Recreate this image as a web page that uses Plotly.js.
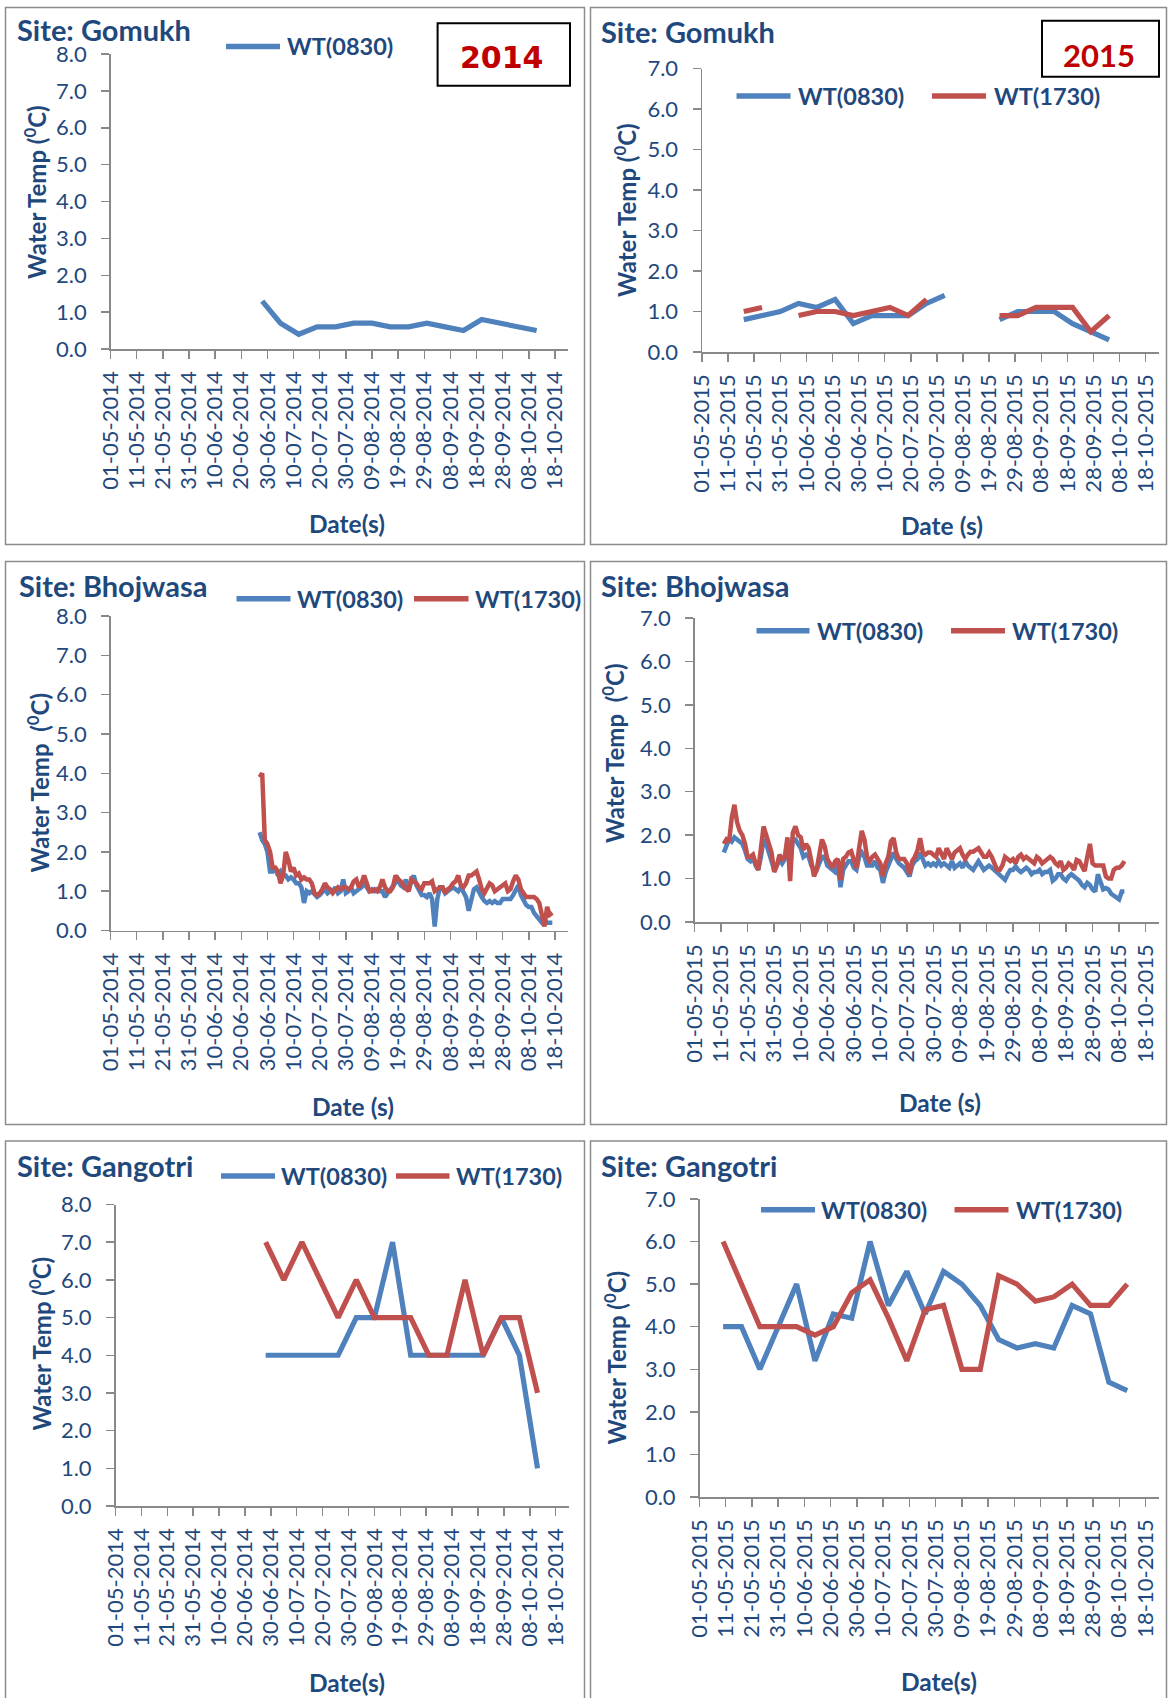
<!DOCTYPE html>
<html>
<head>
<meta charset="utf-8">
<script src="https://cdn.plot.ly/plotly-3.0.1.min.js"></script>
<style>
html,body{margin:0;padding:0;background:#fff;}
#chart{width:1168px;height:1698px;}
</style>
</head>
<body>
<div id="chart"></div>
<script>
// ---------------- DATA ----------------
const ticks2014 = ['01-05-2014','11-05-2014','21-05-2014','31-05-2014','10-06-2014','20-06-2014','30-06-2014','10-07-2014','20-07-2014','30-07-2014','09-08-2014','19-08-2014','29-08-2014','08-09-2014','18-09-2014','28-09-2014','08-10-2014','18-10-2014'];
const ticks2015 = ['01-05-2015','11-05-2015','21-05-2015','31-05-2015','10-06-2015','20-06-2015','30-06-2015','10-07-2015','20-07-2015','30-07-2015','09-08-2015','19-08-2015','29-08-2015','08-09-2015','18-09-2015','28-09-2015','08-10-2015','18-10-2015'];

// Gomukh 2014 (weekly)
const gomukh2014Dates = ['2014-06-28','2014-07-05','2014-07-12','2014-07-19','2014-07-26','2014-08-02','2014-08-09','2014-08-16','2014-08-23','2014-08-30','2014-09-06','2014-09-13','2014-09-20','2014-09-27','2014-10-04','2014-10-11'];
const gomukh2014WT0830 = [1.3,0.7,0.4,0.6,0.6,0.7,0.7,0.6,0.6,0.7,0.6,0.5,0.8,0.7,0.6,0.5];

// Gomukh 2015 (weekly, gaps = no reading)
const gomukh2015Dates = ['2015-05-17','2015-05-24','2015-05-31','2015-06-07','2015-06-14','2015-06-21','2015-06-28','2015-07-05','2015-07-12','2015-07-19','2015-07-26','2015-08-02','2015-08-09','2015-08-16','2015-08-23','2015-08-30','2015-09-06','2015-09-13','2015-09-20','2015-09-27','2015-10-04'];
const gomukh2015WT0830 = [0.8,0.9,1.0,1.2,1.1,1.3,0.7,0.9,0.9,0.9,1.2,1.4,null,null,0.8,1.0,1.0,1.0,0.7,0.5,0.3];
const gomukh2015WT1730 = [1.0,1.1,null,0.9,1.0,1.0,0.9,1.0,1.1,0.9,1.3,null,null,null,0.9,0.9,1.1,1.1,1.1,0.5,0.9];

// Bhojwasa 2014 (daily from 27-06-2014)
const bhoj2014Start = '2014-06-27';
const bhoj2014WT0830 = [
 2.5,2.3,2.2,2.0,1.5,1.5,1.6,1.4,1.5,1.4,
 1.4,1.3,1.35,1.3,1.2,1.2,1.1,0.7,1.0,0.95,
 1.0,0.9,0.85,0.9,1.0,1.05,0.95,1.0,1.0,1.1,
 0.95,1.0,1.3,0.95,1.0,1.1,0.95,1.0,1.05,1.1,
 1.2,1.1,1.0,1.05,1.0,1.05,1.0,1.0,0.85,0.95,
 1.05,1.1,1.2,1.3,
 1.15,1.1,1.3,1.0,1.25,1.4,1.15,1.05,0.9,0.9,
 0.85,0.95,0.8,0.1,0.8,1.1,1.1,0.95,1.0,1.05,
 1.1,1.05,1.0,1.1,0.95,0.85,0.5,0.8,1.05,1.1,
 0.95,0.85,0.75,0.7,0.75,0.7,0.75,0.7,0.7,0.8,
 0.8,0.8,0.8,0.9,1.0,1.15,0.9,0.75,0.65,0.6,
 0.6,0.45,0.35,0.3,0.2,0.25,0.2,0.2,0.2];
const bhoj2014WT1730 = [
 3.9,4.0,2.3,2.2,2.0,1.6,1.6,1.5,1.2,1.4,
 2.0,1.8,1.5,1.6,1.4,1.45,1.3,1.35,1.3,1.3,
 1.2,0.95,0.9,0.95,1.05,1.2,1.1,1.05,0.95,1.05,
 1.1,1.05,1.1,1.1,1.05,1.1,1.25,1.3,1.1,1.2,
 1.4,1.2,1.0,1.0,1.05,1.0,1.1,1.3,1.1,1.0,
 1.0,1.1,1.4,1.3,
 1.25,1.15,1.05,1.0,1.3,1.25,1.2,1.1,1.05,1.2,
 1.2,1.2,1.25,1.0,1.05,1.1,1.1,0.95,1.05,1.1,
 1.2,1.25,1.4,1.15,1.1,1.2,1.4,1.4,1.45,1.5,
 1.3,1.05,0.95,1.1,1.2,1.15,1.0,1.05,1.1,1.15,
 1.2,1.0,1.05,1.25,1.4,1.3,1.05,0.95,0.85,0.85,
 0.85,0.85,0.8,0.7,0.4,0.1,0.6,0.4,0.45];

// Bhojwasa 2015 (daily from 12-05-2015)
const bhoj2015Start = '2015-05-12';
const bhoj2015WT0830 = [
 1.6,1.75,1.9,1.85,1.95,1.9,1.85,1.8,1.65,1.45,
 1.4,1.5,1.3,1.2,1.5,1.9,1.8,1.6,1.4,1.2,
 1.3,1.45,1.35,1.45,1.7,1.3,1.9,1.9,1.8,1.7,
 1.5,1.55,1.5,1.3,1.2,1.2,1.35,1.5,1.5,1.3,
 1.25,1.2,1.15,1.3,0.8,1.2,1.3,1.4,
 1.4,1.25,1.2,1.5,1.6,1.5,1.3,1.3,1.3,1.4,
 1.25,1.2,0.9,1.15,1.3,1.5,1.6,1.45,1.35,1.3,
 1.25,1.15,1.05,1.3,1.4,1.45,1.6,1.45,1.3,1.35,
 1.3,1.35,1.3,1.4,1.3,1.35,1.3,1.25,1.4,1.25,
 1.3,1.35,1.25,1.4,1.3,1.25,1.2,1.3,1.4,1.3,
 1.2,1.25,1.3,1.25,1.2,
 1.15,1.1,1.05,0.97,1.1,1.2,1.2,1.28,1.2,1.15,
 1.2,1.25,1.2,1.1,1.15,1.15,1.2,1.1,1.15,1.15,
 1.2,0.95,1.0,1.1,1.1,1.0,0.95,1.05,1.1,1.05,
 1.0,0.95,0.85,0.8,0.9,0.85,0.75,0.7,1.1,0.9,
 0.75,0.78,0.75,0.65,0.6,0.55,0.52,0.7,0.7];
const bhoj2015WT1730 = [
 1.8,1.9,1.85,2.4,2.7,2.3,2.1,2.0,1.8,1.5,
 1.5,1.55,1.35,1.2,1.7,2.2,2.0,1.8,1.6,1.15,
 1.3,1.55,1.45,1.5,1.95,0.94,2.05,2.2,2.0,1.95,
 1.66,1.8,1.7,1.4,1.05,1.2,1.5,1.9,1.75,1.45,
 1.35,1.25,1.4,1.45,0.97,1.45,1.5,1.6,
 1.63,1.4,1.24,1.7,2.1,1.9,1.5,1.4,1.5,1.55,
 1.45,1.35,1.05,1.35,1.5,1.86,1.93,1.6,1.45,1.45,
 1.45,1.35,1.1,1.4,1.5,1.65,1.93,1.6,1.55,1.6,
 1.6,1.55,1.5,1.7,1.55,1.45,1.7,1.55,1.45,1.6,
 1.65,1.7,1.55,1.45,1.55,1.62,1.62,1.65,1.7,1.6,
 1.5,1.5,1.6,1.5,1.32,
 1.2,1.2,1.3,1.5,1.45,1.4,1.45,1.35,1.5,1.55,
 1.45,1.5,1.45,1.4,1.35,1.5,1.45,1.35,1.4,1.45,
 1.5,1.45,1.35,1.3,1.4,1.2,1.25,1.35,1.3,1.2,
 1.43,1.4,1.3,1.17,1.5,1.8,1.35,1.3,1.3,1.3,
 1.3,1.05,1.0,1.0,1.2,1.25,1.25,1.3,1.4];

// Gangotri 2014 (weekly)
const gangotri2014Dates = gomukh2014Dates;
const gangotri2014WT0830 = [4,4,4,4,4,5,5,7,4,4,4,4,4,5,4,1];
const gangotri2014WT1730 = [7,6,7,6,5,6,5,5,5,4,4,6,4,5,5,3];

// Gangotri 2015 (weekly)
const gangotri2015Dates = ['2015-05-10','2015-05-17','2015-05-24','2015-05-31','2015-06-07','2015-06-14','2015-06-21','2015-06-28','2015-07-05','2015-07-12','2015-07-19','2015-07-26','2015-08-02','2015-08-09','2015-08-16','2015-08-23','2015-08-30','2015-09-06','2015-09-13','2015-09-20','2015-09-27','2015-10-04','2015-10-11'];
const gangotri2015WT0830 = [4.0,4.0,3.0,4.0,5.0,3.2,4.3,4.2,6.0,4.5,5.3,4.3,5.3,5.0,4.5,3.7,3.5,3.6,3.5,4.5,4.3,2.7,2.5];
const gangotri2015WT1730 = [6.0,5.0,4.0,4.0,4.0,3.8,4.0,4.8,5.1,4.2,3.2,4.4,4.5,3.0,3.0,5.2,5.0,4.6,4.7,5.0,4.5,4.5,5.0];

// ---------------- HELPERS ----------------
function dailyDates(start, n){
  const out=[]; const d=new Date(start+'T00:00:00Z');
  for(let i=0;i<n;i++){ const t=new Date(d.getTime()+i*86400000); out.push(t.toISOString().slice(0,10)); }
  return out;
}
function tickIso(lbl){ const p=lbl.split('-'); return p[2]+'-'+p[1]+'-'+p[0]; }

const W=1168, H=1698;
const BLUE='#4F81BD', RED='#C0504D', TXT='#1F497D', AX='#898989';
const FONT='Lato, "Open Sans", sans-serif';

// panel geometry (pixels)
const P = [
  {x0:110.6,x1:568.0,y0:54.0,y1:349.0,ymax:8,yr:'2014',end:'2014-10-23'},
  {x0:702.0,x1:1158.7,y0:68.6,y1:352.0,ymax:7,yr:'2015',end:'2015-10-23'},
  {x0:110.6,x1:568.0,y0:616.0,y1:930.5,ymax:8,yr:'2014',end:'2014-10-23'},
  {x0:694.6,x1:1158.9,y0:618.0,y1:922.0,ymax:7,yr:'2015',end:'2015-10-23'},
  {x0:115.5,x1:568.6,y0:1204.5,y1:1506.0,ymax:8,yr:'2014',end:'2014-10-23'},
  {x0:699.5,x1:1158.7,y0:1199.0,y1:1497.0,ymax:7,yr:'2015',end:'2015-10-23'}
];

const layout = {
  width:W, height:H, margin:{l:0,r:0,t:0,b:0},
  paper_bgcolor:'#fff', plot_bgcolor:'rgba(0,0,0,0)',
  showlegend:false, font:{family:FONT,color:TXT},
  shapes:[], annotations:[]
};

P.forEach((p,i)=>{
  const k = i===0?'':String(i+1);
  const ticks = p.yr==='2014'?ticks2014:ticks2015;
  layout['xaxis'+k] = {
    domain:[p.x0/W, p.x1/W], anchor:'y'+k, type:'date',
    range:[p.yr+'-05-01', p.end],
    tickmode:'array', tickvals:ticks.map(tickIso), ticktext:ticks,
    tickangle:-90, ticks:'outside', ticklen:8, tickwidth:1.5, tickcolor:AX,
    showline:true, linecolor:AX, linewidth:1.5, showgrid:false, zeroline:false,
    tickfont:{family:FONT,size:22,color:TXT}, ticklabelstandoff:4, fixedrange:true
  };
  layout['yaxis'+k] = {
    domain:[1-p.y1/H, 1-p.y0/H], anchor:'x'+k,
    range:[0,p.ymax], dtick:1, tick0:0, tickformat:'.1f',
    ticks:'outside', ticklen:8, tickwidth:1.5, tickcolor:AX,
    showline:true, linecolor:AX, linewidth:1.5, showgrid:false, zeroline:false,
    tickfont:{family:FONT,size:22,color:TXT}, ticklabelstandoff:10, fixedrange:true
  };
});

// panel borders
const borders = [[5.5,7.5,584.5,544.5],[590.5,7.5,1166.5,544.5],[5.5,561.5,584.5,1124.5],[590.5,561.5,1166.5,1124.5],[5.5,1141,584.5,1710],[590.5,1141,1166.5,1710]];
borders.forEach(b=>layout.shapes.push({type:'rect',xref:'paper',yref:'paper',x0:b[0]/W,x1:b[2]/W,y0:1-b[3]/H,y1:1-b[1]/H,line:{color:'#8C8C8C',width:1.5},fillcolor:'rgba(0,0,0,0)',layer:'below'}));

function txt(x,y,t,size,opts){
  layout.annotations.push(Object.assign({xref:'paper',yref:'paper',x:x/W,y:1-y/H,text:t,showarrow:false,
    font:{family:FONT,size:size,color:TXT},xanchor:'left',yanchor:'middle'},opts||{}));
}
function legLine(x0,x1,y,color){
  layout.shapes.push({type:'line',xref:'paper',yref:'paper',x0:x0/W,x1:x1/W,y0:1-y/H,y1:1-y/H,line:{color:color,width:5.5}});
}

// site titles
const siteTitles = [[15,29,'Site: Gomukh'],[599,31,'Site: Gomukh'],[16.5,585,'Site: Bhojwasa'],[599,585,'Site: Bhojwasa'],[15,1165,'Site: Gangotri'],[599,1165,'Site: Gangotri']];
siteTitles.forEach(s=>txt(s[0],s[1],'<b>'+s[2]+'</b>',29));

// legends
const legends = [
  [[226,280,46.5,BLUE,285,'WT(0830)']],
  [[736.5,790.5,96,BLUE,796,'WT(0830)'],[932,986,96,RED,992,'WT(1730)']],
  [[236.5,290.5,598.7,BLUE,295,'WT(0830)'],[414,468.5,598.7,RED,473,'WT(1730)']],
  [[756.5,809.5,630.8,BLUE,815,'WT(0830)'],[951,1005,630.8,RED,1010,'WT(1730)']],
  [[221,275,1176,BLUE,279,'WT(0830)'],[396,449.5,1176,RED,454,'WT(1730)']],
  [[761,815,1209.7,BLUE,819,'WT(0830)'],[954.5,1008.5,1209.7,RED,1014,'WT(1730)']]
];
legends.forEach(L=>L.forEach(e=>{ legLine(e[0],e[1],e[2],e[3]); txt(e[4],e[2],'<b>'+e[5]+'</b>',23.5); }));

// y axis titles
const yTitles = [[35,192,'Water Temp (<sup>0</sup>C)'],[625,210,'Water Temp (<sup>0</sup>C)'],[38,783.5,'Water Temp  (<sup>0</sup>C)'],[613,754,'Water Temp  (<sup>0</sup>C)'],[39.5,1344,'Water Temp (<sup>0</sup>C)'],[614.5,1358,'Water Temp (<sup>0</sup>C)']];
yTitles.forEach(t=>txt(t[0],t[1],'<b>'+t[2]+'</b>',24,{textangle:-90,xanchor:'center'}));

// x axis titles
const xTitles = [[347,523,'Date(s)'],[942,525,'Date (s)'],[353,1106,'Date (s)'],[940,1102.5,'Date (s)'],[347,1682.5,'Date(s)'],[939,1681,'Date(s)']];
xTitles.forEach(t=>txt(t[0],t[1],'<b>'+t[2]+'</b>',24.5,{xanchor:'center'}));

// year boxes
layout.shapes.push({type:'rect',xref:'paper',yref:'paper',x0:437.6/W,x1:570/W,y0:1-85.7/H,y1:1-23.2/H,line:{color:'#000',width:2},fillcolor:'#fff'});
layout.shapes.push({type:'rect',xref:'paper',yref:'paper',x0:1042/W,x1:1159/W,y0:1-76.8/H,y1:1-20.7/H,line:{color:'#000',width:2},fillcolor:'#fff'});
txt(502,57,'<b>2014</b>',30,{xanchor:'center',font:{family:'"DejaVu Sans", sans-serif',size:30,color:'#C00000'}});
txt(1099,55,'<b>2015</b>',31,{xanchor:'center',font:{family:FONT,size:31,color:'#C00000'}});

// ---------------- TRACES ----------------
function tr(x,y,color,k,w){
  return {type:'scatter',mode:'lines',x:x,y:y,xaxis:'x'+k,yaxis:'y'+k,
    line:{color:color,width:w||5.2},connectgaps:false,hoverinfo:'skip'};
}
const bhoj14Dates = dailyDates(bhoj2014Start, bhoj2014WT0830.length);
const bhoj15Dates = dailyDates(bhoj2015Start, bhoj2015WT0830.length);
const data = [
  tr(gomukh2014Dates, gomukh2014WT0830, BLUE, ''),
  tr(gomukh2015Dates, gomukh2015WT0830, BLUE, '2'),
  tr(gomukh2015Dates, gomukh2015WT1730, RED, '2'),
  tr(bhoj14Dates, bhoj2014WT0830, BLUE, '3', 4.5),
  tr(bhoj14Dates, bhoj2014WT1730, RED, '3', 4.5),
  tr(bhoj15Dates, bhoj2015WT0830, BLUE, '4', 4.5),
  tr(bhoj15Dates, bhoj2015WT1730, RED, '4', 4.5),
  tr(gangotri2014Dates, gangotri2014WT0830, BLUE, '5'),
  tr(gangotri2014Dates, gangotri2014WT1730, RED, '5'),
  tr(gangotri2015Dates, gangotri2015WT0830, BLUE, '6'),
  tr(gangotri2015Dates, gangotri2015WT1730, RED, '6')
];

Plotly.newPlot('chart', data, layout, {staticPlot:true, displayModeBar:false});
</script>
</body>
</html>
